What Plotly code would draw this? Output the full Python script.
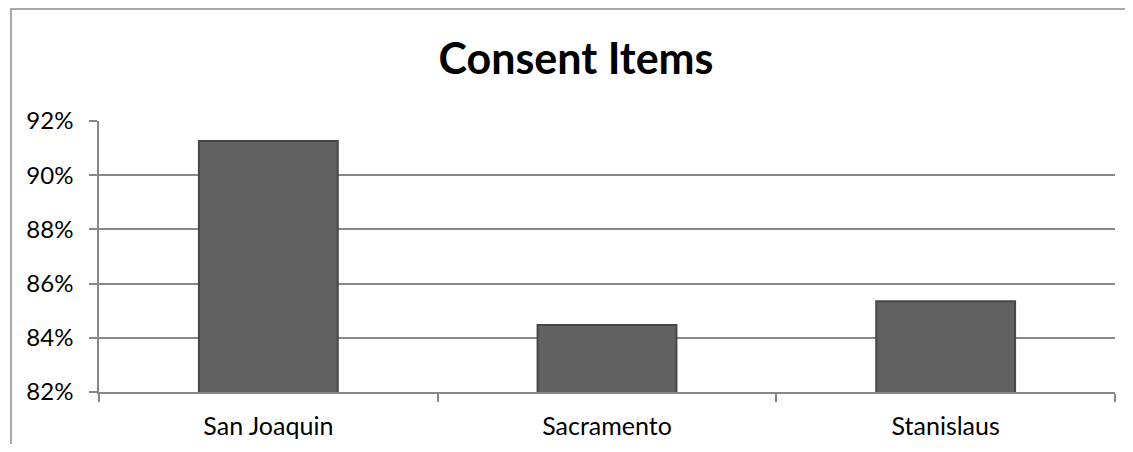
import plotly.graph_objects as go

categories = ["San Joaquin", "Sacramento", "Stanislaus"]
values = [91.26, 84.47, 85.35]
y_ticks = [82, 84, 86, 88, 90, 92]
y_tick_labels = ["82%", "84%", "86%", "88%", "90%", "92%"]
title_text = "Consent Items"

# the page has an 8px body margin, so the figure is sized/offset accordingly
W, H = 1117, 436
ML, MR, MT, MB = 91, 10, 113, 52

fig = go.Figure()
fig.add_trace(go.Bar(
    x=categories, y=values,
    marker=dict(color="#616161", line=dict(color="#474747", width=2)),
    width=0.41,
    showlegend=False,
))

grid = "#878787"
font = "Lato, 'Open Sans', sans-serif"

fig.update_layout(
    width=W, height=H,
    margin=dict(l=ML, r=MR, t=MT, b=MB, pad=0, autoexpand=False),
    paper_bgcolor="white", plot_bgcolor="white",
    title=dict(text="<b>" + title_text + "</b>", x=568 / W, xref="container", xanchor="center",
               y=1 - 51 / H, yref="container", yanchor="middle",
               font=dict(family=font, size=43, color="black")),
    font=dict(family=font, size=24, color="black"),
    bargap=0.59,
)
fig.update_xaxes(
    automargin=False,
    showline=True, linecolor=grid, linewidth=1.5,
    ticks="outside", tickson="boundaries", ticklen=8, tickcolor=grid, tickwidth=1.5,
    showgrid=False, ticklabelstandoff=11,
    tickfont=dict(family=font, size=25, color="black"),
)
fig.update_yaxes(
    automargin=False,
    range=[82, 92], tickvals=y_ticks, ticktext=y_tick_labels,
    showline=True, linecolor=grid, linewidth=1.5,
    ticks="outside", ticklen=8, tickcolor=grid, tickwidth=1.5,
    showgrid=True, gridcolor=grid, gridwidth=1.5, zeroline=False,
    ticklabelstandoff=11,
    tickfont=dict(family=font, size=24, color="black"),
)
# outer chart frame: only left and top edges are visible in the window
pw = W - ML - MR
ph = H - MT - MB
fx0 = (3 - ML) / pw
fy1 = 1 + (MT - 1) / ph
fx1 = (W - ML) / pw
fy0 = -MB / ph
fig.add_shape(type="path", xref="paper", yref="paper",
              path=f"M {fx0},{fy0} L {fx0},{fy1} L {fx1},{fy1}",
              line=dict(color="#8c8c8c", width=1.5), layer="below")

fig.write_html("out.html")
